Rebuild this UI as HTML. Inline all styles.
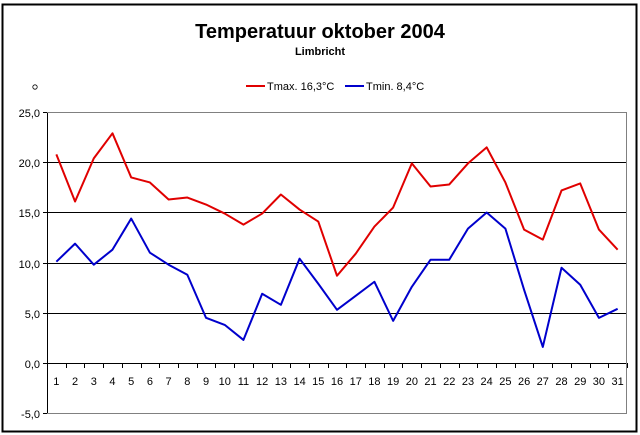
<!DOCTYPE html>
<html><head><meta charset="utf-8"><style>body{margin:0;background:#fff}svg{display:block}text{font-family:"Liberation Sans",Arial,sans-serif}</style></head><body>
<svg width="640" height="435" viewBox="0 0 640 435">
<rect x="0" y="0" width="640" height="435" fill="#fff"/>
<rect x="2.5" y="4.5" width="634" height="427" fill="none" stroke="#000" stroke-width="2"/>
<text x="320" y="38" text-anchor="middle" font-size="20" font-weight="bold">Temperatuur oktober 2004</text>
<text x="320" y="55" text-anchor="middle" font-size="11" font-weight="bold">Limbricht</text>
<circle cx="35" cy="87" r="2.2" fill="none" stroke="#000" stroke-width="0.8"/>
<line x1="246" y1="86" x2="265" y2="86" stroke="#e00000" stroke-width="2"/>
<text x="267" y="90" font-size="11">Tmax. 16,3°C</text>
<line x1="345" y1="86" x2="364" y2="86" stroke="#0000cc" stroke-width="2"/>
<text x="366" y="90" font-size="11">Tmin. 8,4°C</text>
<g stroke="#000" stroke-width="1">
<line x1="47" y1="162.5" x2="627" y2="162.5"/>
<line x1="47" y1="212.5" x2="627" y2="212.5"/>
<line x1="47" y1="263.5" x2="627" y2="263.5"/>
<line x1="47" y1="313.5" x2="627" y2="313.5"/>
<line x1="47" y1="363.5" x2="627" y2="363.5"/>
<line x1="47.5" y1="112" x2="47.5" y2="414"/>
</g>
<polyline points="47,112.5 626.5,112.5 626.5,413.5 47,413.5" fill="none" stroke="#808080" stroke-width="1"/>
<g stroke="#000" stroke-width="1" id="ticks"></g>
<g font-size="11" text-anchor="end">
<text x="40" y="117">25,0</text><text x="40" y="167">20,0</text><text x="40" y="217">15,0</text><text x="40" y="268">10,0</text><text x="40" y="318">5,0</text><text x="40" y="368">0,0</text><text x="40" y="418">-5,0</text>
</g>
<g stroke="#000"><line x1="43" y1="112.5" x2="47" y2="112.5"/><line x1="43" y1="162.5" x2="47" y2="162.5"/><line x1="43" y1="212.5" x2="47" y2="212.5"/><line x1="43" y1="263.5" x2="47" y2="263.5"/><line x1="43" y1="313.5" x2="47" y2="313.5"/><line x1="43" y1="363.5" x2="47" y2="363.5"/><line x1="43" y1="413.5" x2="47" y2="413.5"/></g>
<g id="xl" font-size="11" text-anchor="middle"></g>
<polyline id="tmax" fill="none" stroke="#e00000" stroke-width="2" stroke-linejoin="round"/>
<polyline id="tmin" fill="none" stroke="#0000cc" stroke-width="2" stroke-linejoin="round"/>
</svg>
<script>
var mx=[20.8,16.1,20.4,22.9,18.5,18.0,16.3,16.5,15.8,14.9,13.8,14.9,16.8,15.3,14.1,8.7,10.9,13.6,15.5,19.9,17.6,17.8,19.9,21.5,18.0,13.3,12.3,17.2,17.9,13.3,11.3];
var mn=[10.1,11.9,9.8,11.3,14.4,11.0,9.8,8.8,4.5,3.8,2.3,6.9,5.8,10.4,7.9,5.3,6.7,8.1,4.2,7.6,10.3,10.3,13.4,15.0,13.4,7.3,1.6,9.5,7.8,4.5,5.4];
var w=(627-47)/31,ns="http://www.w3.org/2000/svg";
function X(i){return 47+w*(i+0.5)}function Y(v){return 363-v*10.03}
document.getElementById('tmax').setAttribute('points',mx.map(function(v,i){return X(i)+','+Y(v)}).join(' '));
document.getElementById('tmin').setAttribute('points',mn.map(function(v,i){return X(i)+','+Y(v)}).join(' '));
var t=document.getElementById('ticks'),xl=document.getElementById('xl');
for(var i=0;i<=31;i++){var l=document.createElementNS(ns,'line');var x=Math.round(47+w*i)+0.5;l.setAttribute('x1',x);l.setAttribute('x2',x);l.setAttribute('y1',363);l.setAttribute('y2',368);t.appendChild(l);}
for(var i=0;i<31;i++){var s=document.createElementNS(ns,'text');s.setAttribute('x',X(i));s.setAttribute('y',385);s.textContent=i+1;xl.appendChild(s);}
</script>
</body></html>
